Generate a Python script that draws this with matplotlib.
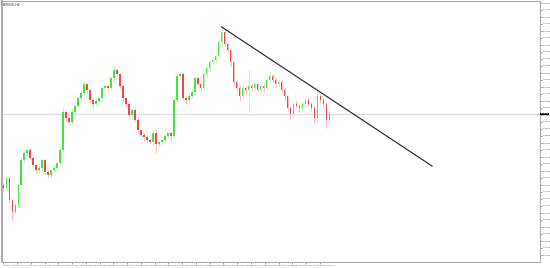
import numpy as np
import matplotlib
matplotlib.use('Agg')
import matplotlib.pyplot as plt

# H4 closes (one per candle, left to right)
closes = [
    1.0754, 1.0774, 1.0730, 1.0706, 1.0720, 1.0760, 1.0810, 1.0824, 1.0830, 1.0814,
    1.0800, 1.0790, 1.0794, 1.0810, 1.0786, 1.0780, 1.0790, 1.0794, 1.0804, 1.0830,
    1.0906, 1.0894, 1.0886, 1.0906, 1.0918, 1.0934, 1.0944, 1.0962, 1.0950, 1.0930,
    1.0922, 1.0928, 1.0934, 1.0954, 1.0958, 1.0954, 1.0974, 1.0990, 1.0982, 1.0958,
    1.0934, 1.0922, 1.0900, 1.0910, 1.0890, 1.0870, 1.0860, 1.0856, 1.0850, 1.0846,
    1.0864, 1.0842, 1.0846, 1.0850, 1.0858, 1.0864, 1.0858, 1.0930, 1.0978, 1.0982,
    1.0934, 1.0930, 1.0938, 1.0946, 1.0974, 1.0962, 1.0954, 1.0982, 1.0994, 1.1006,
    1.1010, 1.1018, 1.1046, 1.1066, 1.1042, 1.1030, 1.1006, 1.0966, 1.0954, 1.0938,
    1.0954, 1.0950, 1.0958, 1.0954, 1.0962, 1.0950, 1.0958, 1.0954, 1.0970, 1.0978,
    1.0970, 1.0962, 1.0966, 1.0950, 1.0938, 1.0914, 1.0902, 1.0922, 1.0918, 1.0914,
    1.0922, 1.0930, 1.0922, 1.0914, 1.0894, 1.0938, 1.0930, 1.0922, 1.0890, 1.0902,
]
first_open = 1.0760

# wick lengths in points (0.0001)
upper_wick = [
    4, 6, 3, 2, 4, 5, 6, 4, 3, 4, 5, 3, 4, 4, 3, 5, 3, 4, 4, 6,
    8, 4, 5, 6, 4, 5, 4, 6, 3, 4,
    4, 5, 3, 4, 6, 4, 4, 10, 4, 3,
    4, 3, 5, 4, 4, 6, 3, 4, 5, 3,
    4, 6, 4, 5, 4, 3, 4, 8, 6, 4,
    5, 4, 6, 4, 5, 4, 6, 4, 5, 4,
    6, 5, 6, 10, 4, 5, 3, 4, 4, 4,
    6, 5, 32, 6, 4, 5, 4, 6, 5, 8,
    4, 5, 4, 6, 4, 3, 5, 4, 6, 5,
    4, 5, 6, 4, 6, 10, 6, 5, 4, 6,
]
lower_wick = [
    5, 4, 6, 16, 4, 3, 4, 5, 6, 4,
    3, 5, 4, 6, 3, 4, 5, 6, 4, 3,
    4, 6, 4, 5, 3, 4, 5, 4, 6, 4,
    5, 4, 3, 5, 4, 6, 4, 3, 4, 5,
    6, 4, 8, 5, 4, 6, 4, 5, 6, 4,
    5, 18, 4, 6, 4, 5, 10, 4, 5, 6,
    4, 8, 5, 4, 6, 4, 5, 4, 6, 5,
    4, 6, 4, 5, 4, 6, 8, 5, 6, 10,
    4, 6, 44, 5, 6, 4, 5, 8, 4, 6,
    5, 6, 4, 6, 8, 6, 10, 6, 4, 8,
    6, 5, 4, 6, 10, 5, 6, 8, 16, 8,
]

# trend line (bar index, price)
trend_x = [73.0, 143.3]
trend_y = [1.1076, 1.0798]

date_labels = [
    "30 Oct 2023", "31 Oct 08:00", "1 Nov 12:00", "2 Nov 16:00", "3 Nov 20:00",
    "7 Nov 00:00", "8 Nov 04:00", "9 Nov 08:00", "10 Nov 12:00", "13 Nov 16:00",
    "14 Nov 20:00", "16 Nov 00:00", "17 Nov 04:00", "20 Nov 08:00", "21 Nov 12:00",
    "22 Nov 16:00", "23 Nov 20:00", "27 Nov 00:00", "28 Nov 04:00", "29 Nov 08:00",
    "30 Nov 12:00", "1 Dec 16:00", "4 Dec 20:00", "6 Dec 00:00",
]

BULL = '#3ee83e'
BEAR = '#f04848'
W, H = 550, 268

fig = plt.figure(figsize=(W / 100, H / 100), dpi=100)
ax = fig.add_axes([1.5 / W, 6 / H, 538.5 / W, 261 / H])

closes = np.array(closes)
opens = np.concatenate([[first_open], closes[:-1]])
highs = np.maximum(opens, closes) + np.array(upper_wick) * 1e-4
lows = np.minimum(opens, closes) - np.array(lower_wick) * 1e-4
idx = np.arange(len(closes))
up = closes >= opens
cols = np.where(up, BULL, BEAR)

ax.vlines(idx, lows, highs, colors=cols, linewidth=0.5, alpha=0.5)
body = np.maximum(np.abs(closes - opens), 0.00012)
ax.bar(idx, body, bottom=np.minimum(opens, closes), width=0.5, color=cols,
       linewidth=0)

# current price line
last = closes[-1]
ax.axhline(last, color='#dde2e8', linewidth=1.0, zorder=0)

ax.plot(trend_x, trend_y, color='#333333', linewidth=0.9)

ax.set_xlim(-0.6, 179.4)
ax.set_ylim(1.0606, 1.1128)

# right price scale
yticks = 1.0900 + np.arange(-20, 17) * 0.0014
ax.yaxis.tick_right()
ax.set_yticks(yticks)
ax.set_yticklabels([f"{v:.4f}" for v in yticks])
ax.tick_params(axis='y', length=1.2, width=0.4, labelsize=1.7, pad=0.8,
               colors='#555555')
ax.text(1.0012, last, f"{last:.4f}", transform=ax.get_yaxis_transform(),
        fontsize=1.7, color='white', va='center', ha='left', zorder=5,
        bbox=dict(boxstyle='square,pad=0.25', fc='black', ec='none'))

xt = np.arange(len(date_labels)) * 4.6
ax.set_xticks(xt)
ax.set_xticklabels(date_labels, ha='left')
ax.tick_params(axis='x', length=1.2, width=0.4, labelsize=1.6, pad=0.6,
               colors='#555555')

for s in ax.spines.values():
    s.set_color('#aaaaaa')
    s.set_linewidth(0.8)
ax.spines['left'].set_linewidth(1.4)

ax.text(0.003, 0.993, "EURUSD,H4", transform=ax.transAxes, fontsize=2.2,
        va='top', ha='left', color='#333333')

fig.savefig('out.png', dpi=100)
